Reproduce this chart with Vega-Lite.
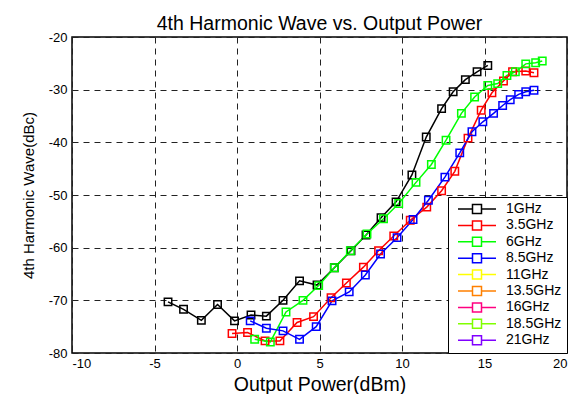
{
  "$schema": "https://vega.github.io/schema/vega-lite/v6.json",
  "width": 495,
  "height": 316,
  "autosize": "none",
  "padding": {"left": 72, "top": 37, "right": 20, "bottom": 41},
  "background": "white",
  "title": {
    "text": "4th Harmonic Wave vs. Output Power",
    "font": "Liberation Sans",
    "fontSize": 19.5,
    "fontWeight": "normal",
    "color": "black",
    "offset": -3
  },
  "config": {
    "font": "Liberation Sans",
    "view": {"stroke": "black", "strokeWidth": 1.5},
    "axis": {
      "grid": true,
      "gridColor": "#222",
      "gridDash": [6, 5],
      "gridWidth": 1,
      "domain": false,
      "ticks": false,
      "labelFont": "Liberation Sans",
      "labelFontSize": 13,
      "labelColor": "black",
      "labelExpr": "'' + datum.value",
      "titleFont": "Liberation Sans",
      "titleFontWeight": "normal",
      "titleColor": "black"
    }
  },
  "data": {
    "values": [
      {"f": "1GHz", "x": -4.18, "y": -70.3},
      {"f": "1GHz", "x": -3.24, "y": -71.7},
      {"f": "1GHz", "x": -2.16, "y": -73.8},
      {"f": "1GHz", "x": -1.18, "y": -70.8},
      {"f": "1GHz", "x": -0.15, "y": -73.9},
      {"f": "1GHz", "x": 0.85, "y": -72.8},
      {"f": "1GHz", "x": 1.78, "y": -73.0},
      {"f": "1GHz", "x": 2.79, "y": -70.0},
      {"f": "1GHz", "x": 3.79, "y": -66.3},
      {"f": "1GHz", "x": 4.85, "y": -67.1},
      {"f": "1GHz", "x": 5.9, "y": -63.8},
      {"f": "1GHz", "x": 6.91, "y": -60.6},
      {"f": "1GHz", "x": 7.82, "y": -57.6},
      {"f": "1GHz", "x": 8.73, "y": -54.3},
      {"f": "1GHz", "x": 9.64, "y": -51.3},
      {"f": "1GHz", "x": 10.6, "y": -46.2},
      {"f": "1GHz", "x": 11.47, "y": -39.0},
      {"f": "1GHz", "x": 12.4, "y": -33.6},
      {"f": "1GHz", "x": 13.1, "y": -30.4},
      {"f": "1GHz", "x": 13.84, "y": -28.1},
      {"f": "1GHz", "x": 14.55, "y": -26.6},
      {"f": "1GHz", "x": 15.2, "y": -25.4},

      {"f": "3.5GHz", "x": -0.3, "y": -76.3},
      {"f": "3.5GHz", "x": 0.64, "y": -76.1},
      {"f": "3.5GHz", "x": 1.7, "y": -77.7},
      {"f": "3.5GHz", "x": 2.6, "y": -77.7},
      {"f": "3.5GHz", "x": 3.64, "y": -74.2},
      {"f": "3.5GHz", "x": 4.64, "y": -73.1},
      {"f": "3.5GHz", "x": 5.7, "y": -69.5},
      {"f": "3.5GHz", "x": 6.63, "y": -66.7},
      {"f": "3.5GHz", "x": 7.66, "y": -63.7},
      {"f": "3.5GHz", "x": 8.58, "y": -60.6},
      {"f": "3.5GHz", "x": 9.5, "y": -57.8},
      {"f": "3.5GHz", "x": 10.5, "y": -54.8},
      {"f": "3.5GHz", "x": 11.5, "y": -52.3},
      {"f": "3.5GHz", "x": 12.4, "y": -49.2},
      {"f": "3.5GHz", "x": 13.2, "y": -45.5},
      {"f": "3.5GHz", "x": 14.0, "y": -39.2},
      {"f": "3.5GHz", "x": 14.8, "y": -33.9},
      {"f": "3.5GHz", "x": 15.45, "y": -30.6},
      {"f": "3.5GHz", "x": 16.15, "y": -28.35},
      {"f": "3.5GHz", "x": 16.7, "y": -26.6},
      {"f": "3.5GHz", "x": 17.5, "y": -26.45},
      {"f": "3.5GHz", "x": 18.0, "y": -26.8},

      {"f": "6GHz", "x": 1.07, "y": -77.4},
      {"f": "6GHz", "x": 2.02, "y": -77.9},
      {"f": "6GHz", "x": 2.97, "y": -72.2},
      {"f": "6GHz", "x": 4.0, "y": -70.0},
      {"f": "6GHz", "x": 4.95, "y": -67.2},
      {"f": "6GHz", "x": 5.9, "y": -63.8},
      {"f": "6GHz", "x": 6.87, "y": -60.6},
      {"f": "6GHz", "x": 7.88, "y": -57.4},
      {"f": "6GHz", "x": 8.88, "y": -54.5},
      {"f": "6GHz", "x": 9.8, "y": -51.6},
      {"f": "6GHz", "x": 10.85, "y": -47.6},
      {"f": "6GHz", "x": 11.78, "y": -44.2},
      {"f": "6GHz", "x": 12.67, "y": -39.6},
      {"f": "6GHz", "x": 13.6, "y": -34.5},
      {"f": "6GHz", "x": 14.4, "y": -31.4},
      {"f": "6GHz", "x": 15.2, "y": -29.2},
      {"f": "6GHz", "x": 15.8, "y": -28.85},
      {"f": "6GHz", "x": 16.36, "y": -27.3},
      {"f": "6GHz", "x": 16.87, "y": -26.6},
      {"f": "6GHz", "x": 17.5, "y": -25.1},
      {"f": "6GHz", "x": 18.1, "y": -24.9},
      {"f": "6GHz", "x": 18.5, "y": -24.55},

      {"f": "8.5GHz", "x": 0.8, "y": -73.9},
      {"f": "8.5GHz", "x": 1.78, "y": -75.3},
      {"f": "8.5GHz", "x": 2.79, "y": -75.8},
      {"f": "8.5GHz", "x": 3.79, "y": -77.4},
      {"f": "8.5GHz", "x": 4.8, "y": -75.0},
      {"f": "8.5GHz", "x": 5.76, "y": -70.1},
      {"f": "8.5GHz", "x": 6.8, "y": -68.4},
      {"f": "8.5GHz", "x": 7.78, "y": -65.2},
      {"f": "8.5GHz", "x": 8.7, "y": -61.2},
      {"f": "8.5GHz", "x": 9.7, "y": -58.1},
      {"f": "8.5GHz", "x": 10.67, "y": -54.65},
      {"f": "8.5GHz", "x": 11.6, "y": -51.0},
      {"f": "8.5GHz", "x": 12.6, "y": -46.6},
      {"f": "8.5GHz", "x": 13.5, "y": -42.0},
      {"f": "8.5GHz", "x": 14.24, "y": -38.0},
      {"f": "8.5GHz", "x": 14.9, "y": -36.1},
      {"f": "8.5GHz", "x": 15.55, "y": -34.5},
      {"f": "8.5GHz", "x": 16.1, "y": -33.0},
      {"f": "8.5GHz", "x": 16.56, "y": -31.9},
      {"f": "8.5GHz", "x": 17.07, "y": -30.9},
      {"f": "8.5GHz", "x": 17.5, "y": -30.4},
      {"f": "8.5GHz", "x": 18.0, "y": -30.1}
    ]
  },
  "mark": {
    "type": "line",
    "strokeWidth": 1.5,
    "point": {"shape": "square", "filled": false, "size": 55, "strokeWidth": 1.5}
  },
  "encoding": {
    "x": {
      "field": "x",
      "type": "quantitative",
      "title": "Output Power(dBm)",
      "scale": {"domain": [-10, 20], "nice": false},
      "axis": {"values": [-10, -5, 0, 5, 10, 15, 20], "labelPadding": 4, "titleFontSize": 19.5, "titlePadding": 5}
    },
    "y": {
      "field": "y",
      "type": "quantitative",
      "title": "4th Harmonic Wave(dBc)",
      "scale": {"domain": [-80, -20], "nice": false},
      "axis": {
        "values": [-80, -70, -60, -50, -40, -30, -20],
        "labelPadding": 5,
        "titleFontSize": 15,
        "titleX": -44,
        "titleY": 158,
        "titleAlign": "center",
        "titleBaseline": "middle"
      }
    },
    "color": {
      "field": "f",
      "type": "nominal",
      "scale": {
        "domain": ["1GHz", "3.5GHz", "6GHz", "8.5GHz", "11GHz", "13.5GHz", "16GHz", "18.5GHz", "21GHz"],
        "range": ["#000000", "#ff0000", "#00ff00", "#0000ff", "#ffff00", "#ff8000", "#ff0080", "#80ff00", "#8000ff"]
      },
      "legend": {
        "title": null,
        "orient": "bottom-right",
        "offset": 0,
        "padding": 5,
        "fillColor": "white",
        "strokeColor": "black",
        "symbolType": "M-19,0H-4.5M4.5,0H19M-4.5,-4.5H4.5V4.5H-4.5Z",
        "symbolSize": 4,
        "symbolStrokeWidth": 1.5,
        "symbolFillColor": "transparent",
        "symbolOffset": 17,
        "labelOffset": 22,
        "labelExpr": "datum.label + ' '",
        "labelFontSize": 14,
        "labelColor": "black",
        "rowPadding": 0.4
      }
    }
  }
}
